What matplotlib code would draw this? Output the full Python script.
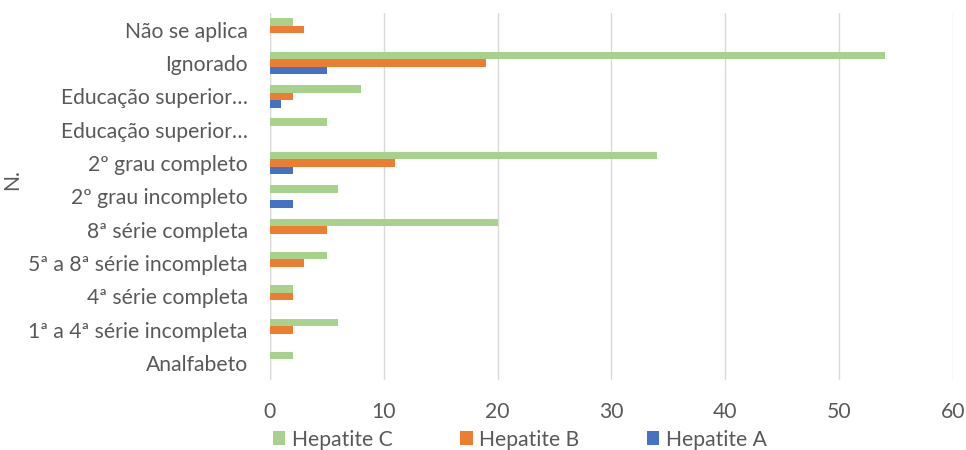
import numpy as np
import matplotlib
matplotlib.use("Agg")
import matplotlib.pyplot as plt

plt.rcParams['font.family'] = ['Lato', 'DejaVu Sans']

categories = [
    "Analfabeto",
    "1ª a 4ª série incompleta",
    "4ª série completa",
    "5ª a 8ª série incompleta",
    "8ª série completa",
    "2º grau incompleto",
    "2º grau completo",
    "Educação superior…",
    "Educação superior…",
    "Ignorado",
    "Não se aplica",
]
hep_a = [0, 0, 0, 0, 0, 2, 2, 0, 1, 5, 0]
hep_b = [0, 2, 2, 3, 5, 0, 11, 0, 2, 19, 3]
hep_c = [2, 6, 2, 5, 20, 6, 34, 5, 8, 54, 2]
x_ticks = [0, 10, 20, 30, 40, 50, 60]

text_color = "#595959"
fs = 15.2
fig = plt.figure(figsize=(9.66, 4.5), dpi=100)
ax = fig.add_axes([0.2795, 0.156, 0.707, 0.815])

y = np.arange(len(categories))
h = 0.225
ax.barh(y - h, hep_a, height=h, color="#4472C4", label="Hepatite A", zorder=3)
ax.barh(y, hep_b, height=h, color="#ED7D31", label="Hepatite B", zorder=3)
ax.barh(y + h, hep_c, height=h, color="#A9D18E", label="Hepatite C", zorder=3)

ax.set_ylim(-0.5, len(categories) - 0.5)
ax.set_xlim(0, 60)
ax.set_xticks(x_ticks)
ax.set_yticks(y)
ax.set_yticklabels(categories)
ax.tick_params(axis="both", length=0, labelsize=fs, colors=text_color)
ax.tick_params(axis="y", pad=16)
ax.tick_params(axis="x", pad=16)
ax.grid(axis="x", color="#D9D9D9", linewidth=1, zorder=0)
for s in ax.spines.values():
    s.set_visible(False)
ax.axvline(0, color="#D9D9D9", linewidth=1, zorder=1)

ax.set_ylabel("N.", fontsize=fs, color=text_color)
ax.yaxis.set_label_coords(-0.363, 0.545)

handles, labels = ax.get_legend_handles_labels()
leg = fig.legend(handles[::-1], labels[::-1], loc="lower left",
                 bbox_to_anchor=(0.267, -0.032), ncol=3, frameon=False,
                 fontsize=fs, handlelength=0.6, handleheight=0.6,
                 handletextpad=0.3, columnspacing=3.2, borderpad=0.2)
for t in leg.get_texts():
    t.set_color(text_color)

fig.savefig("out.png", dpi=100)
